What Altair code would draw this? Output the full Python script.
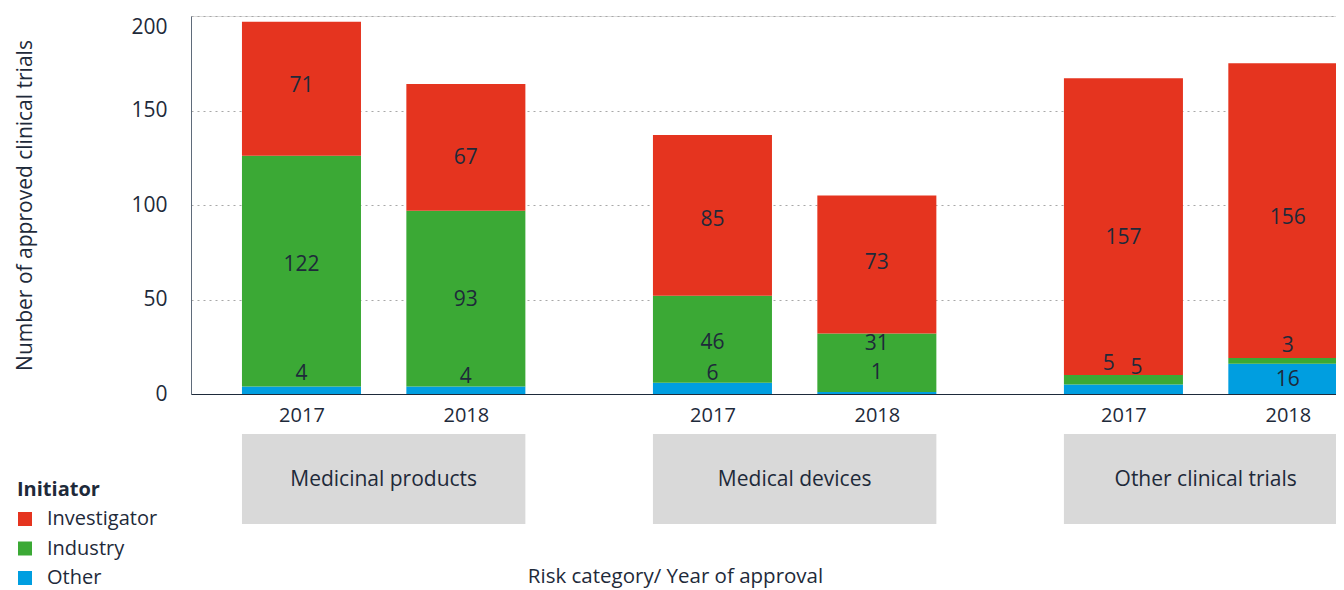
import altair as alt
import pandas as pd

groups = ["Medicinal products", "Medical devices", "Other clinical trials"]
years = ["2017", "2018"]
initiators = ["Investigator", "Industry", "Other"]
colors = ["#e5341f", "#3ba935", "#009ee0"]

investigator = [71, 67, 85, 73, 157, 156]
industry = [122, 93, 46, 31, 5, 3]
other = [4, 4, 6, 1, 5, 16]

# where each number label sits (value units)
label_y_investigator = [163, 125, 92, 69.2, 82.5, 93.2]
label_y_industry = [68.3, 49.8, 27, 26.5, 16, 25.5]
label_y_other = [10.5, 9.2, 10.8, 11.3, 14, 7.2]
label_shift_industry = [0, 0, 0, 0, -0.09, 0]
label_shift_other = [0, 0, 0, 0, 0.08, 0]

TEXT = "#1e2a3a"
FONT = "Open Sans"
HALF = 0.362  # half bar width in slot units
GROUP_STEP = 2.5

series = [
    ("Other", other, label_y_other, label_shift_other),
    ("Industry", industry, label_y_industry, label_shift_industry),
    ("Investigator", investigator, label_y_investigator, [0] * 6),
]

rows = []
for i in range(6):
    gi, yi = divmod(i, 2)
    pos = gi * GROUP_STEP + yi
    base = 0
    for name, vals, ly, sh in series:
        v = vals[i]
        rows.append({
            "group": groups[gi], "year": years[yi], "initiator": name,
            "value": v, "x0": pos - HALF, "x1": pos + HALF,
            "y0": base, "y1": base + v, "lx": pos + sh[i], "ly": ly[i],
        })
        base += v
df = pd.DataFrame(rows)

boxes = pd.DataFrame({
    "group": groups,
    "bx0": [g * GROUP_STEP - HALF for g in range(3)],
    "bx1": [g * GROUP_STEP + 1 + HALF for g in range(3)],
    "cx": [g * GROUP_STEP + 0.5 for g in range(3)],
})

xscale = alt.Scale(domain=[-0.672, 6.293], nice=False, zero=False)
yscale = alt.Scale(domain=[0, 200], nice=False)

xaxis = alt.Axis(
    values=[0, 1, 2.5, 3.5, 5, 6],
    labelExpr="datum.value % 2.5 == 0 ? '2017' : '2018'",
    ticks=False, grid=False, domainColor=TEXT, domainWidth=1.2,
    labelFontSize=20, labelColor=TEXT, labelFont=FONT, labelPadding=11,
    title="Risk category/ Year of approval", titleFontSize=20.5, titleFontWeight="normal",
    titleColor=TEXT, titleFont=FONT, titleX=484, titleY=182,
    titleAlign="center", titleBaseline="middle",
)
yaxis = alt.Axis(
    values=[0, 50, 100, 150, 200], ticks=False, grid=True, gridDash=[2, 4],
    gridColor="#a8a8a8", gridWidth=1.2, domainColor="#5f6b7a",
    labelFontSize=21, labelColor=TEXT, labelFont=FONT, labelPadding=24,
    labelBaseline={"condition": {"test": "datum.value == 200", "value": "top"}, "value": "middle"},
    title="Number of approved clinical trials", titleFontSize=21, titleFontWeight="normal",
    titleColor=TEXT, titleFont=FONT, titleX=-166, titleY=189, titleAngle=-90,
    titleAlign="center", titleBaseline="middle",
)

bars = alt.Chart(df).mark_rect(clip=True).encode(
    x=alt.X("x0:Q", scale=xscale, axis=xaxis),
    x2="x1:Q",
    y=alt.Y("y0:Q", scale=yscale, axis=yaxis),
    y2="y1:Q",
    color=alt.Color(
        "initiator:N",
        scale=alt.Scale(domain=initiators, range=colors),
        legend=alt.Legend(
            title="Initiator", orient="none", legendX=-174, legendY=464,
            titleFontSize=20, titleFont=FONT, titleColor=TEXT, titleFontWeight="bold",
            titlePadding=9, labelFontSize=20, labelFont=FONT, labelColor=TEXT,
            symbolType="square", symbolSize=196, symbolStrokeWidth=0,
            labelOffset=12, rowPadding=9.5, symbolOffset=-2,
        ),
    ),
)

labels = alt.Chart(df).mark_text(fontSize=21, font=FONT, color=TEXT, baseline="middle").encode(
    x=alt.X("lx:Q", scale=xscale),
    y=alt.Y("ly:Q", scale=yscale),
    text="value:Q",
)

box = alt.Chart(boxes).mark_rect(color="#d9d9d9", clip=False).encode(
    x=alt.X("bx0:Q", scale=xscale),
    x2="bx1:Q",
    y=alt.value(418),
    y2=alt.value(508),
)
box_text = alt.Chart(boxes).mark_text(fontSize=21, font=FONT, color=TEXT, baseline="middle").encode(
    x=alt.X("cx:Q", scale=xscale),
    y=alt.value(464),
    text="group:N",
)

chart = alt.layer(bars, labels, box, box_text).properties(
    width=1145, height=378,
    autosize=alt.AutoSizeParams(type="none"),
    padding={"left": 183, "top": 8, "right": 0, "bottom": 196},
).configure_view(stroke=None).configure(background="white")

chart.save("out.html", embed_options={"renderer": "svg", "actions": False})
